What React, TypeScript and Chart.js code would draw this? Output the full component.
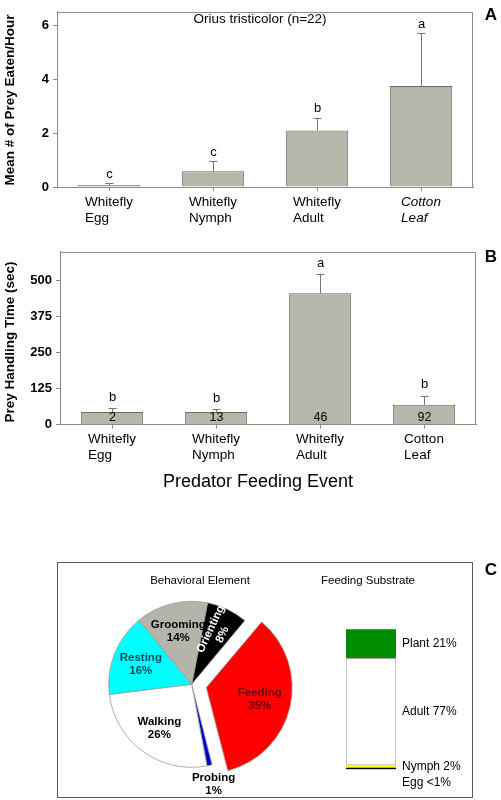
import React, { useEffect, useRef } from 'react';
import { Chart, registerables } from 'chart.js';

Chart.register(...registerables);

// ---------------- data ----------------
const categories: string[][] = [
  ['Whitefly', 'Egg'],
  ['Whitefly', 'Nymph'],
  ['Whitefly', 'Adult'],
  ['Cotton', 'Leaf'],
];

const preyEaten = [0.07, 0.58, 2.1, 3.75];
const preyEatenErr = [0.08, 0.38, 0.47, 1.95];
const preyEatenLetters = ['c', 'c', 'b', 'a'];
const preyEatenTicks = [0, 2, 4, 6];

const handlingTime = [44, 44, 456, 69];
const handlingErr = [13, 9, 67, 31];
const handlingLetters = ['b', 'b', 'a', 'b'];
const handlingCounts = ['2', '13', '46', '92'];
const handlingTicks = [0, 125, 250, 375, 500];

const behaviorNames = ['Orienting', 'Feeding', 'Probing', 'Walking', 'Resting', 'Grooming'];
const behaviorPct = [8, 35, 1, 26, 16, 14];

const substrateNames = ['Egg', 'Nymph', 'Adult', 'Plant'];
const substratePct = [0.9, 2, 77, 21];
const substrateLabels = ['<1%', '2%', '77%', '21%'];

// ---------------- styles ----------------
const FONT = '"Liberation Sans", Arial, Helvetica, sans-serif';
const AXIS = '#8a8a8a';
const BAR_FILL = '#b6b6aa';
const BAR_EDGE = '#6c6c62';

type PanelOpts = {
  values: number[];
  errs: number[];
  letters: string[];
  letterGap: number;
  italicLast: boolean;
  counts?: string[];
  title?: string;
  titleX?: number;
  titleY?: number;
  yTitle: string;
  yTitleY: number;
  panel: string;
  panelY: number;
  xTitle?: string;
  xTitleX?: number;
  xTitleY?: number;
};

function barPanelPlugin(o: PanelOpts) {
  return {
    id: 'panelDecor',
    afterDatasetsDraw(chart: any) {
      const { ctx, chartArea: ca, scales } = chart;
      const x = scales.x;
      const y = scales.y;
      ctx.save();
      // frame (top + right)
      ctx.strokeStyle = AXIS;
      ctx.lineWidth = 1;
      ctx.beginPath();
      ctx.moveTo(ca.left, Math.round(ca.top) + 0.5);
      ctx.lineTo(Math.round(ca.right) - 0.5, Math.round(ca.top) + 0.5);
      ctx.lineTo(Math.round(ca.right) - 0.5, ca.bottom);
      ctx.stroke();

      // error bars, letters, counts
      o.values.forEach((v, i) => {
        const xc = Math.round(x.getPixelForValue(i)) + 0.5;
        const yb = y.getPixelForValue(v);
        const yt = y.getPixelForValue(v + o.errs[i]);
        ctx.strokeStyle = '#77776f';
        ctx.lineWidth = 1;
        ctx.beginPath();
        ctx.moveTo(xc, yb);
        ctx.lineTo(xc, yt);
        ctx.moveTo(xc - 4, Math.round(yt) + 0.5);
        ctx.lineTo(xc + 4, Math.round(yt) + 0.5);
        ctx.stroke();
        ctx.fillStyle = '#000';
        ctx.textAlign = 'center';
        ctx.textBaseline = 'middle';
        ctx.font = `13px ${FONT}`;
        ctx.fillText(o.letters[i], xc, yt - o.letterGap);
        if (o.counts) {
          ctx.font = `12.5px ${FONT}`;
          ctx.fillText(o.counts[i], xc, y.getPixelForValue(0) - 7);
        }
      });

      // category labels (left-aligned block, centred on the tick)
      const axisY = y.getPixelForValue(0);
      categories.forEach((lines, i) => {
        const xc = x.getPixelForValue(i);
        const italic = o.italicLast && i === categories.length - 1;
        ctx.font = `${italic ? 'italic ' : ''}13.5px ${FONT}`;
        const w = Math.max(...lines.map((l) => ctx.measureText(l).width));
        ctx.textAlign = 'left';
        ctx.textBaseline = 'middle';
        ctx.fillStyle = '#000';
        lines.forEach((l, k) => ctx.fillText(l, xc - w / 2, axisY + 15 + k * 16));
      });

      // plot title
      if (o.title) {
        ctx.font = `13.5px ${FONT}`;
        ctx.textAlign = 'center';
        ctx.fillText(o.title, o.titleX!, o.titleY!);
      }
      // x title
      if (o.xTitle) {
        ctx.font = `18px ${FONT}`;
        ctx.textAlign = 'center';
        ctx.fillText(o.xTitle, o.xTitleX!, o.xTitleY!);
      }
      // y title
      ctx.save();
      ctx.translate(10, o.yTitleY);
      ctx.rotate(-Math.PI / 2);
      ctx.font = `bold 13.5px ${FONT}`;
      ctx.textAlign = 'center';
      ctx.textBaseline = 'middle';
      ctx.fillText(o.yTitle, 0, 0);
      ctx.restore();
      // panel letter
      ctx.font = `bold 17px ${FONT}`;
      ctx.textAlign = 'center';
      ctx.textBaseline = 'middle';
      ctx.fillText(o.panel, 491, o.panelY);
      ctx.restore();
    },
  };
}

function barConfig(args: {
  values: number[];
  max: number;
  ticks: number[];
  yWidth: number;
  xHeight: number;
  padding: { top: number; right: number; left: number; bottom: number };
  plugin: any;
}): any {
  return {
    type: 'bar',
    data: {
      labels: categories.map((c) => c.join(' ')),
      datasets: [
        {
          data: args.values,
          backgroundColor: BAR_FILL,
          borderColor: BAR_EDGE,
          borderWidth: 1,
          barPercentage: 0.6,
          categoryPercentage: 1,
        },
      ],
    },
    options: {
      animation: false,
      responsive: false,
      events: [],
      layout: { padding: args.padding },
      plugins: { legend: { display: false }, tooltip: { enabled: false } },
      scales: {
        x: {
          offset: true,
          grid: {
            offset: false,
            drawOnChartArea: false,
            drawTicks: true,
            tickLength: 4,
            color: AXIS,
          },
          border: { color: AXIS },
          ticks: { display: false },
          afterFit(s: any) {
            s.height = args.xHeight;
          },
        },
        y: {
          min: 0,
          max: args.max,
          afterBuildTicks(s: any) {
            s.ticks = args.ticks.map((v) => ({ value: v }));
          },
          grid: { drawOnChartArea: false, drawTicks: true, tickLength: 4, color: AXIS },
          border: { color: AXIS },
          ticks: {
            color: '#000',
            padding: 4,
            font: { family: FONT, size: 13, weight: 'bold' },
          },
          afterFit(s: any) {
            s.width = args.yWidth;
          },
        },
      },
    },
    plugins: [args.plugin],
  };
}

const configA = barConfig({
  values: preyEaten,
  max: 6.5,
  ticks: preyEatenTicks,
  yWidth: 57,
  xHeight: 53,
  padding: { top: 4.5, right: 28, left: 0, bottom: 0 },
  plugin: barPanelPlugin({
    values: preyEaten,
    errs: preyEatenErr,
    letters: preyEatenLetters,
    letterGap: 9,
    italicLast: true,
    title: 'Orius tristicolor (n=22)',
    titleX: 260,
    titleY: 19,
    yTitle: 'Mean # of Prey Eaten/Hour',
    yTitleY: 100,
    panel: 'A',
    panelY: 15,
  }),
});

const configB = barConfig({
  values: handlingTime,
  max: 600,
  ticks: handlingTicks,
  yWidth: 60,
  xHeight: 75.3,
  padding: { top: 2.7, right: 25, left: 0, bottom: 0 },
  plugin: barPanelPlugin({
    values: handlingTime,
    errs: handlingErr,
    letters: handlingLetters,
    letterGap: 11,
    italicLast: false,
    counts: handlingCounts,
    yTitle: 'Prey Handling Time (sec)',
    yTitleY: 102,
    panel: 'B',
    panelY: 17,
    xTitle: 'Predator Feeding Event',
    xTitleX: 258,
    xTitleY: 242,
  }),
});

// ---------------- panel C: pie ----------------
const pieColors = ['#000000', '#ff0000', '#0000c8', '#ffffff', '#00ffff', '#b4b4aa'];
const pieTextColors = ['#ffffff', '#6e0000', '#000000', '#000000', '#0e4a58', '#000000'];

const pieDecor = {
  id: 'pieDecor',
  beforeDatasetsDraw(chart: any) {
    const { ctx } = chart;
    ctx.save();
    ctx.strokeStyle = '#5a5a5a';
    ctx.lineWidth = 1;
    ctx.strokeRect(57.5, 32.5, 415, 235);
    ctx.fillStyle = '#000';
    ctx.textAlign = 'center';
    ctx.textBaseline = 'middle';
    ctx.font = `11.5px ${FONT}`;
    ctx.fillText('Behavioral Element', 200, 51);
    ctx.fillText('Feeding Substrate', 368, 51);
    ctx.font = `bold 17px ${FONT}`;
    ctx.fillText('C', 491, 40);
    ctx.restore();
  },
  afterDatasetsDraw(chart: any) {
    const { ctx } = chart;
    const meta = chart.getDatasetMeta(0);
    ctx.save();
    ctx.textAlign = 'center';
    ctx.textBaseline = 'middle';
    ctx.font = `bold 11.5px ${FONT}`;
    meta.data.forEach((arc: any, i: number) => {
      const { x, y, startAngle, endAngle, outerRadius } = arc.getProps(
        ['x', 'y', 'startAngle', 'endAngle', 'outerRadius'],
        true
      );
      const mid = (startAngle + endAngle) / 2;
      const off = (arc.options.offset || 0) / 4;
      const cx = x + Math.cos(mid) * off;
      const cy = y + Math.sin(mid) * off;
      const pct = behaviorPct[i];
      const lines = [behaviorNames[i], `${pct}%`];
      ctx.fillStyle = pieTextColors[i];
      if (pct < 5) {
        const r = outerRadius + 19;
        const lx = cx + Math.cos(mid) * r;
        const ly = cy + Math.sin(mid) * r;
        lines.forEach((l, k) => ctx.fillText(l, lx, ly - 6.5 + k * 13));
      } else if (pct < 10) {
        const r = outerRadius * 0.7;
        ctx.save();
        ctx.translate(cx + Math.cos(mid) * r, cy + Math.sin(mid) * r);
        ctx.rotate(mid);
        lines.forEach((l, k) => ctx.fillText(l, 0, -6.5 + k * 13));
        ctx.restore();
      } else {
        const r = outerRadius * 0.66;
        const lx = cx + Math.cos(mid) * r;
        const ly = cy + Math.sin(mid) * r;
        lines.forEach((l, k) => ctx.fillText(l, lx, ly - 6.5 + k * 13));
      }
    });
    ctx.restore();
  },
};

const configPie: any = {
  type: 'pie',
  data: {
    labels: behaviorNames,
    datasets: [
      {
        data: behaviorPct,
        backgroundColor: pieColors,
        borderColor: '#9c9c9c',
        borderWidth: 0.8,
        offset: [0, 60, 0, 0, 0, 0],
        radius: 83,
      },
    ],
  },
  options: {
    animation: false,
    responsive: false,
    events: [],
    rotation: 11,
    layout: { padding: { left: 91.7, right: 209.3, top: 54.3, bottom: 15.7 } },
    plugins: { legend: { display: false }, tooltip: { enabled: false } },
  },
  plugins: [pieDecor],
};

// ---------------- panel C: stacked substrate bar ----------------
const substrateColors = ['#000000', '#ffff00', '#ffffff', '#008c00'];

const substrateDecor = {
  id: 'substrateDecor',
  afterDatasetsDraw(chart: any) {
    const { ctx } = chart;
    ctx.save();
    ctx.font = `12px ${FONT}`;
    ctx.fillStyle = '#000';
    ctx.textAlign = 'left';
    ctx.textBaseline = 'middle';
    let prev = -Infinity;
    for (let i = substrateNames.length - 1; i >= 0; i--) {
      const bar: any = chart.getDatasetMeta(i).data[0];
      const { x, y, base, width } = bar.getProps(['x', 'y', 'base', 'width'], true);
      const ly = Math.max((y + base) / 2, prev + 16);
      prev = ly;
      ctx.fillText(`${substrateNames[i]} ${substrateLabels[i]}`, x + width / 2 + 6, ly);
    }
    ctx.restore();
  },
};

const substrateTotal = substratePct.reduce((a, b) => a + b, 0);

const configSub: any = {
  type: 'bar',
  data: {
    labels: ['Feeding Substrate'],
    datasets: substrateNames.map((n, i) => ({
      label: n,
      data: [substratePct[i]],
      backgroundColor: substrateColors[i],
      borderColor: '#a8a8a8',
      borderWidth: n === 'Adult' ? 1 : 0,
      borderSkipped: false,
      barPercentage: 1,
      categoryPercentage: 1,
    })),
  },
  options: {
    animation: false,
    responsive: false,
    events: [],
    layout: { padding: { left: 346, right: 105, top: 99.3, bottom: 30.7 } },
    plugins: { legend: { display: false }, tooltip: { enabled: false } },
    scales: {
      x: { display: false, stacked: true },
      y: { display: false, stacked: true, min: 0, max: substrateTotal },
    },
  },
  plugins: [substrateDecor],
};

// ---------------- components ----------------
function ChartCanvas(props: { config: any; left: number; top: number; width: number; height: number }) {
  const ref = useRef<HTMLCanvasElement>(null);
  useEffect(() => {
    const chart = new Chart(ref.current as HTMLCanvasElement, props.config);
    return () => chart.destroy();
  }, []);
  return (
    <canvas
      ref={ref}
      width={props.width}
      height={props.height}
      style={{
        position: 'absolute',
        left: props.left,
        top: props.top,
        width: props.width,
        height: props.height,
      }}
    />
  );
}

export default function App() {
  return (
    <div
      style={{
        position: 'absolute',
        left: 0,
        top: 0,
        width: 501,
        height: 800,
        overflow: 'hidden',
        background: '#fff',
      }}
    >
      <ChartCanvas config={configA} left={0} top={0} width={501} height={240} />
      <ChartCanvas config={configB} left={0} top={240} width={501} height={260} />
      <ChartCanvas config={configPie} left={0} top={530} width={501} height={270} />
      <ChartCanvas config={configSub} left={0} top={530} width={501} height={270} />
    </div>
  );
}
